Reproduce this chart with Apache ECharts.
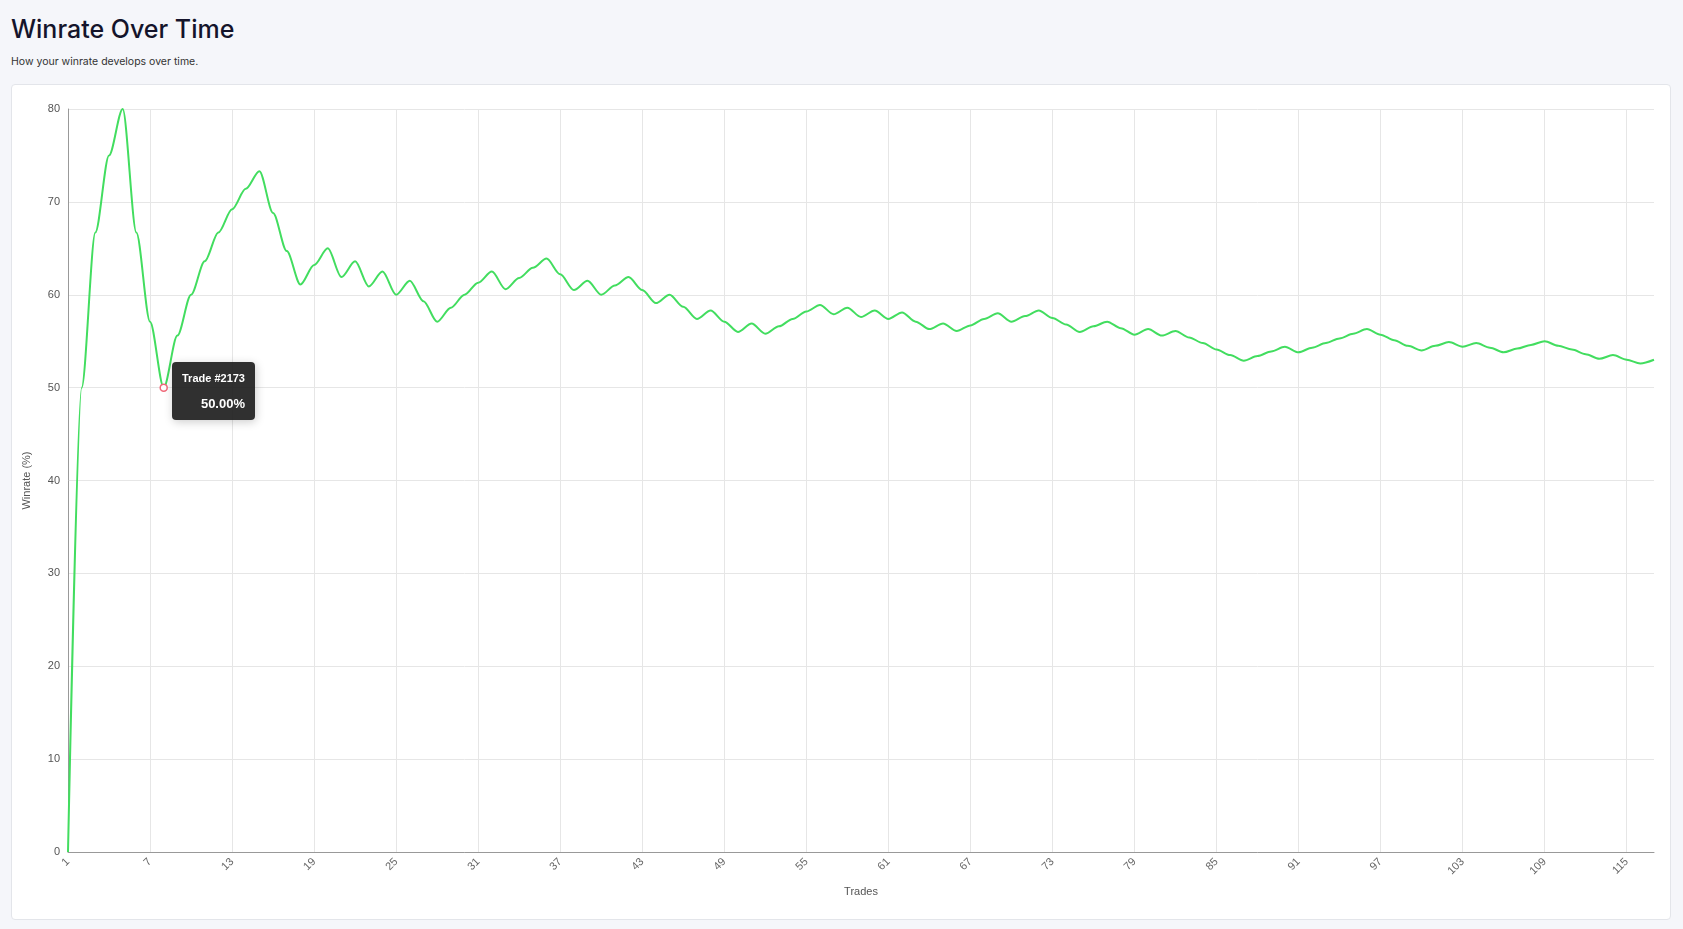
<!DOCTYPE html>
<html><head><meta charset="utf-8">
<script src="https://cdn.jsdelivr.net/npm/echarts@6/dist/echarts.min.js"></script>
<style>
html,body{margin:0;padding:0;background:#f5f6fa;font-family:Inter,Roboto,sans-serif;width:1683px;height:929px;overflow:hidden}
h1{position:absolute;left:11px;top:14px;margin:0;font-size:25px;font-weight:500;color:#14142b}
p{position:absolute;left:11px;top:55px;margin:0;font-size:10.5px;color:#333}
#card{position:absolute;left:11px;top:84px;width:1658px;height:834px;background:#fff;border:1px solid #e3e5ea;border-radius:4px}
#c{width:100%;height:100%}
</style></head><body>
<h1>Winrate Over Time</h1>
<p>How your winrate develops over time.</p>
<div id="card"><div id="c"></div></div>
<script>
const categories = [];
for (let i = 1; i <= 117; i++) categories.push(String(i));
const winrate = [0,50,66.7,75,80,66.7,57.1,50,55.6,60,63.6,66.7,69.2,71.4,73.3,68.8,64.7,61.1,63.2,65,
61.9,63.6,60.9,62.5,60,61.5,59.3,57.1,58.6,60,61.3,62.5,60.6,61.8,62.9,63.9,62.2,60.5,61.5,60,
61.0,61.9,60.5,59.1,60,58.7,57.4,58.3,57.1,56,56.9,55.8,56.6,57.4,58.2,58.9,57.9,58.6,57.6,58.3,
57.4,58.1,57.1,56.3,56.9,56.1,56.7,57.4,58.0,57.1,57.7,58.3,57.5,56.8,56.0,56.6,57.1,56.4,55.7,56.3,
55.6,56.1,55.4,54.8,54.1,53.5,52.9,53.4,53.9,54.4,53.8,54.3,54.8,55.3,55.8,56.3,55.7,55.1,54.5,54.0,
54.5,54.9,54.4,54.8,54.3,53.8,54.2,54.6,55.0,54.5,54.1,53.6,53.1,53.5,53.0,52.6,53.0];
const tipTitle = 'Trade #2173';
const chart = echarts.init(document.getElementById('c'));
chart.setOption({
  animation:false,
  grid:{left:56,right:16,top:24,bottom:67},
  tooltip:{trigger:'axis',axisPointer:{type:'none'},alwaysShowContent:true,backgroundColor:'rgba(30,30,30,0.92)',borderWidth:0,padding:[6,10],
    position:function(p){return [p[0]+8,p[1]-26];},
    formatter:function(ps){const p=ps[0];return '<div style="text-align:right;color:#fff;font-weight:bold;font-size:11px">'+tipTitle+'</div><div style="text-align:right;color:#fff;font-weight:bold;font-size:13px;margin-top:4px">'+p.value.toFixed(2)+'%</div>';}},
  xAxis:{type:'category',data:categories,boundaryGap:false,name:'Trades',nameLocation:'middle',nameGap:34,
    nameTextStyle:{color:'#555',fontSize:11},
    axisLine:{lineStyle:{color:'#999'}},axisTick:{show:false},
    axisLabel:{interval:5,rotate:45,color:'#666',fontSize:11},
    splitLine:{show:true,interval:5,lineStyle:{color:'#e6e6e6'}}},
  yAxis:{type:'value',min:0,max:80,interval:10,name:'Winrate (%)',nameLocation:'middle',nameGap:36,
    nameTextStyle:{color:'#555',fontSize:11},
    axisLine:{show:true,lineStyle:{color:'#999'}},axisLabel:{color:'#555',fontSize:11},
    splitLine:{lineStyle:{color:'#e6e6e6'}}},
  series:[{type:'line',data:winrate,smooth:0.3,smoothMonotone:'x',showSymbol:false,symbol:'circle',symbolSize:7,
    lineStyle:{color:'#3cc957',width:2},
    itemStyle:{color:'#fff',borderColor:'#f06a7a',borderWidth:1.5},
    emphasis:{scale:false}}]
});
setTimeout(function(){chart.dispatchAction({type:'showTip',seriesIndex:0,dataIndex:7});},50);
</script>
</body></html>
